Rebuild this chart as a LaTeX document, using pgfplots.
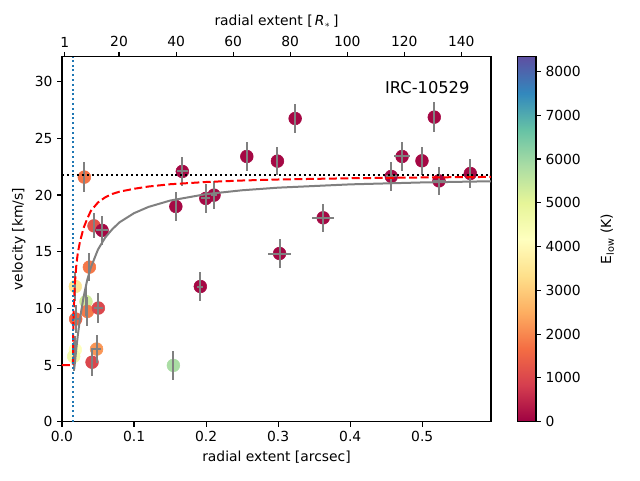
\documentclass[border=0pt]{standalone}
\usepackage{fontspec}
\setmainfont{DejaVu Sans}
\usepackage{pgfplots}
\usepackage{pgfplotstable}
\pgfplotsset{compat=1.18}

\pgfplotstableread{
x y dx dy E
0.0310 21.58 0.000 1.30 1750
0.0444 17.28 0.000 1.10 1200
0.0556 16.88 0.008 1.25 100
0.0380 13.64 0.000 1.25 1800
0.0185 11.93 0.000 1.25 3500
0.0333 10.60 0.000 1.25 5300
0.0352 9.73 0.000 1.25 1850
0.0190 9.06 0.004 1.25 1500
0.0505 10.03 0.006 1.30 1000
0.0185 6.35 0.000 1.25 4200
0.0162 5.76 0.000 1.25 4600
0.0480 6.41 0.006 1.25 2200
0.0417 5.25 0.000 1.25 1000
0.1546 4.97 0.000 1.25 5850
0.1580 18.99 0.000 1.25 100
0.1670 22.08 0.008 1.25 100
0.1920 11.93 0.004 1.25 100
0.1996 19.70 0.006 1.25 100
0.2110 19.99 0.004 1.25 100
0.2565 23.40 0.000 1.25 100
0.2990 22.99 0.000 1.25 100
0.3020 14.84 0.0155 1.25 100
0.3236 26.75 0.000 1.25 100
0.3625 17.99 0.0155 1.25 100
0.4570 21.64 0.008 1.30 100
0.4720 23.40 0.011 1.25 100
0.4996 23.02 0.000 1.25 100
0.5167 26.87 0.000 1.30 100
0.5232 21.25 0.008 1.25 100
0.5667 21.90 0.000 1.30 100
}\pts

\begin{document}
\begin{tikzpicture}[font=\fontsize{10.4}{12.5}\selectfont]
\path[use as bounding box] (-46.5pt,-43.7pt) rectangle (433.5pt,316.3pt);
\begin{axis}[
  at={(0,0)}, anchor=south west, scale only axis,
  width=321.75pt, height=273.75pt,
  xmin=0, xmax=0.5954, ymin=0, ymax=32.2,
  xtick={0,0.1,0.2,0.3,0.4,0.5}, ytick={0,5,10,15,20,25,30},
  xtick pos=left, ytick pos=left, tick align=outside,
  major tick length=3.65pt,
  every tick/.style={black, line width=0.83pt},
  axis line style={line width=0.83pt},
  /pgf/number format/assume math mode=true,
  xticklabel style={/pgf/number format/.cd, fixed, fixed zerofill, precision=1},
  xlabel={radial extent [arcsec]},
  ylabel={velocity [km/s]},
  colormap={spectral}{rgb255=(158,1,66) rgb255=(213,62,79) rgb255=(244,109,67) rgb255=(253,174,97) rgb255=(254,224,139) rgb255=(255,255,191) rgb255=(230,245,152) rgb255=(171,221,164) rgb255=(102,194,165) rgb255=(50,136,189) rgb255=(94,79,162)},
  point meta min=0, point meta max=8335,
  colorbar,
  colorbar shift/.style={xshift=19.5pt},
  colorbar style={
    width=13.8pt,
    ytick={0,1000,2000,3000,4000,5000,6000,7000,8000},
    ytick pos=right, yticklabel pos=right,
    tick align=outside, major tick length=3.65pt,
    every tick/.style={black, line width=0.83pt},
    axis line style={line width=0.83pt},
    scaled y ticks=false,
    /pgf/number format/1000 sep={},
    /pgf/number format/assume math mode=true,
    ylabel={E\textsubscript{low} (K)},
    ylabel style={yshift=-8pt},
  },
]
\addplot[scatter, only marks, mark=*, mark size=4.8pt,
  scatter src=explicit,
  scatter/use mapped color={draw=mapped color, fill=mapped color}]
  table[x=x, y=y, meta=E]{\pts};
\end{axis}
\begin{axis}[
  at={(0,0)}, anchor=south west, scale only axis,
  width=321.75pt, height=273.75pt,
  xmin=0, xmax=0.5954, ymin=0, ymax=32.2,
  hide axis,
]
\addplot[draw=none, mark=none, forget plot,
  error bars/.cd, x dir=both, y dir=both, x explicit, y explicit,
  error mark=none, error bar style={draw=gray, line width=1.5pt}]
  table[x=x, y=y, x error=dx, y error=dy]{\pts};
\addplot[gray, line width=1.5pt, forget plot] coordinates {
(0.0168,4.60) (0.0172,4.79) (0.018,5.27) (0.019,5.89) (0.020,6.51) (0.022,7.65)
(0.025,9.11) (0.030,11.02) (0.035,12.50) (0.040,13.60) (0.050,15.20) (0.060,16.25)
(0.070,17.00) (0.080,17.60) (0.100,18.40) (0.120,18.95) (0.150,19.51) (0.200,20.08)
(0.250,20.42) (0.300,20.65) (0.400,20.94) (0.500,21.11) (0.600,21.22)};
\addplot[red, line width=1.5pt, dash pattern=on 6pt off 2.6pt, forget plot] coordinates {
(0,5) (0.0152,5) (0.0155,7.34) (0.016,9.3) (0.017,11.0) (0.018,12.3) (0.020,13.9)
(0.022,14.9) (0.025,15.9) (0.030,17.1) (0.035,17.9) (0.040,18.6) (0.050,19.35)
(0.060,19.8) (0.070,20.1) (0.080,20.3) (0.100,20.55) (0.120,20.75) (0.150,20.95)
(0.200,21.15) (0.250,21.28) (0.300,21.37) (0.400,21.48) (0.500,21.55) (0.600,21.60)};
\addplot[black, line width=1.5pt, dash pattern=on 1.5pt off 2.2pt, forget plot]
  coordinates {(0,21.75) (0.6,21.75)};
\addplot[color={rgb,255:red,31;green,119;blue,180}, line width=1.5pt,
  dash pattern=on 1.5pt off 2.1pt, forget plot]
  coordinates {(0.015,0) (0.015,32.2)};
\node[font=\fontsize{12.2}{14}\selectfont] at (axis cs:0.507,29.5) {IRC-10529};
\end{axis}
\begin{axis}[
  at={(0,0)}, anchor=south west, scale only axis,
  width=321.75pt, height=273.75pt,
  xmin=0, xmax=150.4, ymin=0, ymax=1,
  axis x line*=top, hide y axis,
  xtick={1,20,40,60,80,100,120,140},
  tick align=outside, major tick length=3.65pt,
  every tick/.style={black, line width=0.83pt},
  axis line style={line width=0.83pt},
  /pgf/number format/assume math mode=true,
  xlabel={radial extent [\,\textit{R}\textsubscript{$*$}\,]},
]
\addplot[draw=none, forget plot] coordinates {(0,0) (150,1)};
\end{axis}
\end{tikzpicture}
\end{document}
